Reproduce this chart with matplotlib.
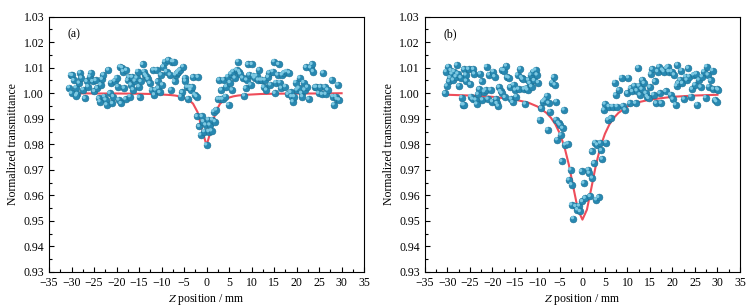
import numpy as np
import matplotlib
matplotlib.use('Agg')
import matplotlib.pyplot as plt
from matplotlib.ticker import MultipleLocator
from matplotlib.transforms import offset_copy

plt.rcParams['font.family'] = ['Liberation Serif', 'DejaVu Serif']
plt.rcParams['mathtext.fontset'] = 'stix'

# panel (a) measured points
xa = [-30.5, -30.2, -29.8, -30.0, -29.5, -29.0, -28.7, -28.3, -28.1, -28.9,
      -27.8, -27.4, -27.0, -26.6, -26.3, -25.9, -25.7, -25.3, -24.9, -24.6,
      -24.3, -23.9, -23.7, -23.5, -23.2, -22.9, -22.7, -22.4, -22.2, -21.8,
      -21.5, -21.2, -20.9, -20.7, -20.4, -20.0, -19.7, -19.5, -19.2, -19.0,
      -18.7, -18.5, -18.3, -18.0, -17.8, -17.5, -17.2, -17.0, -16.8, -16.5,
      -16.3, -15.9, -15.5, -15.3, -15.0, -14.9, -14.6, -14.2, -13.9, -13.6,
      -13.3, -13.0, -12.6, -12.2, -11.8, -11.6, -11.3, -11.1, -10.9, -10.7,
      -10.4, -10.1, -9.8, -9.6, -9.3, -8.9, -8.5, -8.1, -7.9, -7.6,
      -7.3, -7.1, -6.9, -6.5, -6.3, -5.9, -5.7, -5.4, -5.2, -4.8,
      -4.7, -4.3, -4.1, -3.8, -3.5, -3.2, -3.0, -2.6, -2.2, -1.9,
      -2.1, -1.6, -1.3, -1.0, -0.7, -0.5, -0.2, 0.0, 0.4, 0.5,
      0.7, 1.1, 1.3, 1.6, 1.9, 2.2, 2.6, 2.8, 3.1, 3.3,
      3.6, 3.8, 4.2, 4.4, 4.7, 4.9, 5.2, 5.4, 5.7, 5.9,
      6.3, 6.7, 7.0, 7.3, 7.5, 8.0, 8.4, 8.7, 8.9, 9.2,
      9.5, 9.8, 10.1, 10.4, 10.7, 11.1, 11.5, 11.7, 12.0, 12.4,
      12.7, 13.0, 13.3, 13.7, 13.9, 14.2, 14.7, 15.0, 15.2, 15.4,
      15.8, 16.0, 16.3, 16.6, 16.8, 17.2, 17.5, 17.8, 18.1, 18.4,
      18.7, 18.9, 19.2, 19.5, 19.8, 20.1, 20.5, 20.7, 21.1, 21.3,
      21.6, 21.8, 22.1, 22.4, 22.7, 23.1, 23.4, 23.7, 24.1, 24.4,
      24.9, 25.3, 25.7, 25.9, 26.3, 26.5, 26.9, 27.8, 28.1, 28.3,
      28.7, 29.0, 29.2, 29.5]
ya = [1.0022, 1.0072, 1.0070, 1.0000, 1.0050, 1.0022, 0.9996, 1.0040, 1.0080, 0.9990,
      1.0060, 1.0014, 0.9980, 1.0046, 1.0026, 1.0065, 1.0080, 1.0046, 1.0007, 1.0050,
      1.0020, 0.9980, 0.9967, 1.0033, 1.0055, 1.0072, 0.9987, 0.9974, 0.9955, 1.0091,
      1.0000, 1.0042, 0.9960, 0.9987, 1.0048, 1.0060, 1.0026, 0.9974, 1.0104, 0.9960,
      1.0100, 1.0085, 1.0020, 0.9977, 1.0090, 1.0050, 1.0063, 0.9987, 1.0033, 1.0063,
      1.0014, 1.0048, 1.0060, 1.0085, 1.0026, 0.9984, 1.0046, 1.0113, 1.0085, 1.0072,
      1.0065, 1.0055, 1.0039, 1.0013, 1.0091, 0.9994, 1.0013, 1.0091, 1.0046, 1.0020,
      1.0003, 1.0072, 1.0033, 1.0104, 1.0124, 1.0085, 1.0130, 1.0072, 1.0013, 1.0124,
      1.0124, 1.0046, 1.0072, 1.0078, 1.0085, 1.0091, 0.9987, 1.0003, 1.0104, 1.0060,
      1.0048, 1.0024, 0.9978, 1.0024, 1.0013, 1.0024, 1.0063, 0.9994, 0.9987, 1.0063,
      0.9909, 0.9870, 0.9837, 0.9909, 0.9889, 0.9850, 0.9876, 0.9798, 0.9896, 0.9850,
      0.9876, 0.9853, 0.9896, 0.9928, 0.9889, 0.9935, 0.9977, 1.0052, 0.9977, 1.0013,
      0.9977, 1.0052, 0.9987, 1.0026, 1.0065, 0.9955, 1.0042, 1.0076, 1.0013, 1.0085,
      1.0060, 1.0091, 1.0124, 1.0085, 1.0076, 1.0060, 0.9990, 1.0020, 1.0052, 1.0113,
      1.0072, 1.0033, 1.0113, 1.0068, 1.0060, 1.0068, 1.0052, 1.0091, 1.0052, 1.0052,
      1.0024, 1.0052, 1.0013, 1.0063, 1.0080, 1.0033, 1.0085, 1.0124, 1.0000, 1.0042,
      1.0072, 1.0113, 1.0042, 1.0020, 1.0072, 1.0080, 1.0026, 1.0085, 0.9996, 1.0080,
      1.0003, 0.9987, 0.9967, 0.9987, 1.0042, 1.0013, 1.0020, 1.0060, 1.0000, 0.9987,
      1.0042, 1.0013, 1.0102, 1.0024, 0.9977, 1.0100, 1.0113, 1.0085, 1.0024, 1.0024,
      1.0000, 1.0024, 0.9996, 1.0080, 1.0024, 0.9996, 1.0013, 1.0052, 0.9987, 0.9955,
      0.9987, 0.9977, 1.0033, 0.9974]

# panel (b) measured points
xb = [-30.5, -30.3, -30.1, -29.8, -29.6, -29.4, -29.2, -29.0, -28.7, -28.5,
      -28.1, -27.9, -27.7, -27.4, -27.0, -26.8, -26.6, -26.3, -26.3, -25.9,
      -25.8, -25.3, -24.9, -24.8, -24.4, -24.2, -24.0, -23.7, -23.5, -23.2,
      -22.9, -22.7, -22.4, -22.2, -21.8, -21.5, -21.3, -21.0, -20.7, -20.4,
      -20.0, -19.8, -19.5, -19.2, -19.0, -18.7, -18.5, -18.2, -17.9, -17.8,
      -17.4, -17.2, -16.9, -16.7, -16.3, -16.0, -15.8, -15.5, -15.3, -14.9,
      -14.7, -14.4, -14.2, -13.8, -13.5, -13.3, -12.9, -12.7, -12.4, -12.2,
      -12.0, -11.7, -11.5, -11.3, -10.9, -10.7, -10.4, -10.1, -9.8, -9.5,
      -9.1, -8.7, -8.3, -7.9, -7.7, -7.5, -7.2, -6.7, -6.4, -6.1,
      -5.8, -5.9, -5.6, -5.3, -5.0, -4.8, -4.6, -4.4, -4.1, -3.8,
      -3.2, -3.0, -2.6, -2.4, -2.4, -2.0, -1.5, -1.1, -0.7, -0.5,
      -0.2, 0.0, 0.3, 0.6, 1.3, 1.5, 1.7, 2.1, 2.2, 2.6,
      2.8, 3.1, 3.3, 3.6, 4.0, 4.2, 4.4, 4.8, 5.0, 5.3,
      5.7, 5.9, 6.3, 6.7, 7.2, 7.4, 7.7, 8.1, 8.7, 9.0,
      9.5, 10.0, 10.2, 10.5, 10.7, 11.1, 11.5, 11.8, 12.1, 12.4,
      12.6, 12.8, 13.2, 13.3, 13.7, 14.1, 14.4, 14.7, 15.0, 15.2,
      15.5, 15.8, 16.1, 16.4, 16.7, 17.0, 17.2, 17.5, 17.8, 18.1,
      18.5, 18.7, 19.0, 19.2, 19.6, 19.8, 20.1, 20.4, 20.7, 20.9,
      21.1, 21.3, 21.7, 22.0, 22.2, 22.6, 22.9, 23.2, 23.5, 23.7,
      24.1, 24.4, 24.7, 25.0, 25.3, 25.5, 25.9, 26.3, 26.6, 27.0,
      27.4, 27.6, 27.9, 28.1, 28.5, 28.9, 29.1, 29.5, 29.8, 30.0,
      30.2]
yb = [1.0000, 1.0085, 1.0029, 1.0104, 1.0046, 1.0061, 1.0089, 1.0076, 1.0052, 1.0085,
      1.0065, 1.0111, 1.0076, 1.0029, 1.0061, 0.9983, 0.9955, 0.9955, 1.0094, 1.0072,
      1.0048, 1.0094, 1.0035, 0.9987, 0.9977, 1.0094, 1.0076, 0.9974, 0.9958, 0.9996,
      1.0016, 1.0076, 1.0046, 0.9974, 1.0006, 1.0013, 1.0104, 0.9977, 1.0072, 1.0013,
      0.9967, 1.0085, 1.0065, 0.9977, 0.9960, 0.9950, 1.0024, 1.0007, 1.0000, 1.0091,
      1.0089, 0.9984, 1.0107, 1.0063, 1.0060, 1.0024, 0.9977, 0.9964, 1.0033, 1.0013,
      0.9987, 1.0072, 1.0016, 1.0095, 1.0061, 1.0055, 1.0016, 0.9958, 1.0020, 1.0013,
      1.0052, 1.0039, 1.0072, 1.0026, 1.0085, 1.0050, 1.0091, 1.0072, 1.0042, 0.9896,
      0.9941, 0.9967, 0.9974, 0.9990, 0.9857, 0.9961, 0.9928, 1.0042, 1.0063, 1.0033,
      0.9967, 0.9896, 0.9818, 0.9883, 0.9876, 0.9837, 0.9733, 0.9863, 0.9935, 0.9798,
      0.9802, 0.9661, 0.9700, 0.9642, 0.9563, 0.9509, 0.9557, 0.9544, 0.9559, 0.9537,
      0.9694, 0.9576, 0.9648, 0.9589, 0.9700, 0.9687, 0.9596, 0.9772, 0.9668, 0.9726,
      0.9807, 0.9583, 0.9798, 0.9592, 0.9805, 0.9776, 0.9742, 0.9935, 0.9958, 0.9807,
      0.9896, 0.9948, 0.9902, 0.9948, 1.0042, 0.9994, 0.9948, 1.0013, 1.0061, 0.9950,
      0.9935, 1.0000, 1.0061, 0.9961, 1.0020, 1.0007, 1.0029, 0.9961, 1.0010, 1.0100,
      1.0029, 0.9994, 1.0016, 1.0052, 1.0039, 1.0000, 0.9987, 0.9980, 1.0024, 1.0076,
      1.0094, 0.9994, 1.0046, 0.9961, 1.0085, 1.0104, 1.0000, 0.9961, 1.0091, 1.0085,
      1.0007, 1.0098, 1.0104, 1.0085, 0.9994, 1.0085, 0.9977, 1.0072, 0.9955, 1.0029,
      1.0111, 1.0039, 1.0052, 1.0089, 1.0039, 0.9977, 1.0065, 1.0052, 1.0098, 1.0065,
      0.9987, 1.0016, 1.0072, 1.0033, 1.0076, 0.9955, 1.0052, 1.0024, 1.0065, 1.0085,
      0.9983, 1.0104, 1.0072, 1.0026, 1.0050, 1.0089, 1.0016, 0.9974, 0.9967, 1.0016,
      1.0013]

# fitted curves
fit_x = [-30, -25, -20, -15, -12, -10, -8, -7, -6, -5, -4, -3, -2, -1, 0,
         1, 2, 3, 4, 5, 6, 7, 8, 10, 12, 15, 20, 25, 30]
fit_a = [1.0000, 0.9999, 0.9999, 0.9998, 0.9997, 0.9995, 0.9993, 0.9991, 0.9988, 0.9983,
         0.9975, 0.9959, 0.9926, 0.9858, 0.9795,
         0.9858, 0.9926, 0.9959, 0.9975, 0.9983, 0.9988, 0.9991, 0.9993, 0.9995, 0.9997,
         0.9998, 0.9999, 0.9999, 1.0000]
fit_b = [0.9994, 0.9991, 0.9986, 0.9975, 0.9963, 0.9948, 0.9923, 0.9904, 0.9878, 0.9841,
         0.9790, 0.9719, 0.9630, 0.9544, 0.9505,
         0.9544, 0.9630, 0.9719, 0.9790, 0.9841, 0.9878, 0.9904, 0.9923, 0.9948, 0.9963,
         0.9975, 0.9986, 0.9991, 0.9994]

panels = [('(a)', xa, ya, fit_a), ('(b)', xb, yb, fit_b)]

fig = plt.figure(figsize=(7.52, 3.08), dpi=100)
lefts = [0.0652, 0.565]

for (tag, xs, ys, fit), left in zip(panels, lefts):
    ax = fig.add_axes([left, 0.117, 0.419, 0.829])
    ax.plot(fit_x, fit, color='#ee4d5a', lw=1.5, zorder=2)
    # sphere-looking markers: base + lighter highlight
    ax.scatter(xs, ys, s=24, color='#2788b1', edgecolors='#1a6f92', linewidths=0.4, zorder=3)
    hl = offset_copy(ax.transData, fig=fig, x=-0.7, y=0.7, units='points')
    ax.scatter(xs, ys, s=6, color='#7cc8e2', edgecolors='none', transform=hl, zorder=4)
    ax.set_xlim(-35, 35)
    ax.set_ylim(0.93, 1.03)
    ax.xaxis.set_major_locator(MultipleLocator(5))
    ax.xaxis.set_minor_locator(MultipleLocator(2.5))
    ax.yaxis.set_major_locator(MultipleLocator(0.01))
    ax.yaxis.set_minor_locator(MultipleLocator(0.005))
    ax.yaxis.set_major_formatter(matplotlib.ticker.FormatStrFormatter('%.2f'))
    ax.xaxis.set_major_formatter(matplotlib.ticker.FuncFormatter(
        lambda v, p: ('\u2212%d' % -v) if v < 0 else '%d' % v))
    ax.tick_params(which='both', direction='in', top=False, right=False, labelsize=8.5)
    ax.tick_params(which='major', length=3.5, width=0.8)
    ax.tick_params(which='minor', length=2, width=0.8)
    for s in ax.spines.values():
        s.set_linewidth(0.8)
    ax.text(0.06, 0.92, tag, transform=ax.transAxes, fontsize=8.5)
    ax.set_xlabel('$Z$ position / mm', fontsize=8.5, labelpad=2)
    ax.set_ylabel('Normalized transmittance', fontsize=8.5, labelpad=3)

fig.savefig('out.png', dpi=100)
